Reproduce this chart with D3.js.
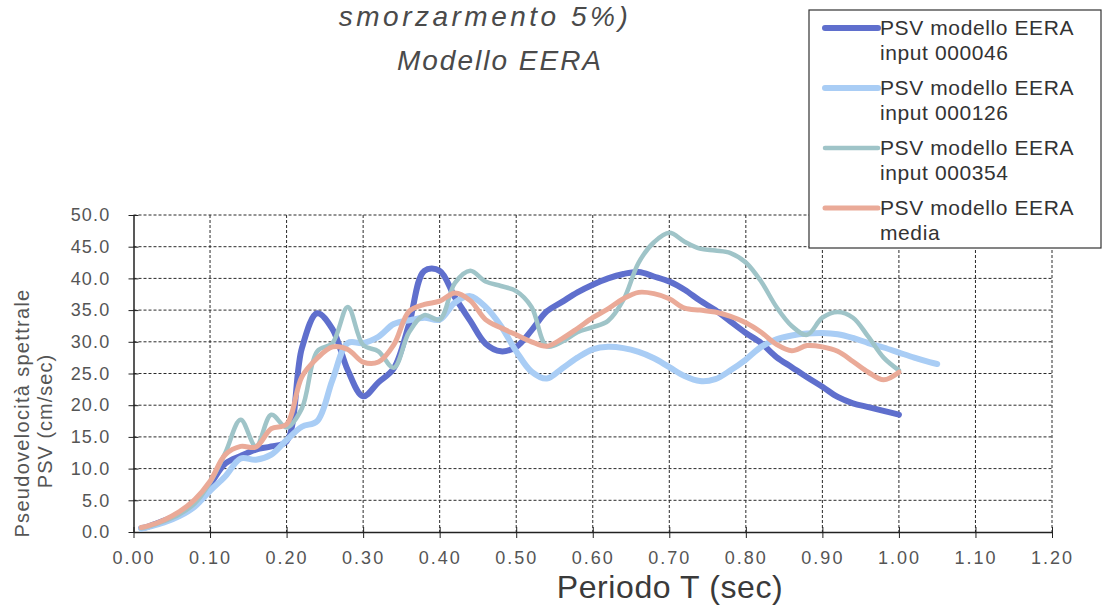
<!DOCTYPE html>
<html>
<head>
<meta charset="utf-8">
<script src="https://cdn.jsdelivr.net/npm/d3@7"></script>
<style>
  body { margin: 0; background: #ffffff; }
  svg { display: block; font-family: "Liberation Sans", Arial, sans-serif; }
</style>
</head>
<body>
<svg id="chart" width="1104" height="605"></svg>
<script>
// Periodi T (sec)
const periods = [0.01, 0.02, 0.04, 0.06, 0.08, 0.10, 0.12, 0.14, 0.16, 0.18, 0.20,
  0.22, 0.24, 0.26, 0.28, 0.30, 0.32, 0.34, 0.36, 0.38, 0.40,
  0.42, 0.44, 0.46, 0.48, 0.50, 0.52, 0.54, 0.56, 0.58, 0.60,
  0.62, 0.64, 0.66, 0.68, 0.70, 0.72, 0.74, 0.76, 0.78, 0.80,
  0.82, 0.84, 0.86, 0.88, 0.90, 0.92, 0.94, 0.96, 0.98, 1.00,
  1.02, 1.04, 1.05];

// PSV (cm/sec) per input
const psv000046 = [0.6, 0.9, 1.8, 2.9, 4.6, 7.5, 10.8, 12.0, 13.0, 13.5, 14.3,
  29.0, 34.5, 32.0, 25.5, 21.4, 23.6, 25.8, 32.8, 41.2, 41.2,
  37.0, 33.3, 29.7, 28.5, 29.2, 31.8, 34.8, 36.3, 37.8, 39.0,
  40.0, 40.7, 41.0, 40.3, 39.5, 38.2, 36.5, 35.0, 33.2, 31.4,
  29.8, 27.6, 26.0, 24.4, 22.9, 21.3, 20.3, 19.7, 19.1, 18.5,
  null, null, null];

const psv000126 = [0.5, 0.8, 1.5, 2.5, 4.0, 6.5, 8.8, 11.6, 11.4, 12.2, 14.5,
  16.6, 17.5, 24.0, 29.8, 29.8, 30.8, 32.8, 33.4, 33.8, 33.5,
  36.2, 37.2, 35.5, 32.5, 28.5, 25.3, 24.2, 25.8, 27.5, 28.8,
  29.2, 29.0, 28.4, 27.4, 26.0, 24.6, 23.8, 24.1, 25.5, 27.2,
  29.2, 30.4, 31.0, 31.3, 31.4, 31.2, 30.6, 29.8, 29.1, 28.3,
  27.5, 26.8, 26.5];

const psv000354 = [0.6, 0.9, 1.7, 2.8, 4.5, 7.8, 12.5, 17.7, 13.5, 18.5, 16.5,
  19.5, 28.5, 29.8, 35.5, 29.5, 28.5, 25.9, 31.5, 34.2, 33.5,
  39.3, 41.2, 39.5, 38.8, 38.0, 35.5, 29.3, 30.0, 31.5, 32.3,
  33.3, 36.6, 42.5, 45.7, 47.2, 45.8, 44.7, 44.4, 44.0, 42.5,
  39.5, 35.5, 32.5, 31.1, 33.8, 34.7, 33.8, 30.8, 27.5, 25.5,
  null, null, null];

const psvMedia = [0.7, 1.0, 1.9, 3.2, 5.1, 8.0, 12.2, 13.5, 13.4, 16.3, 17.0,
  24.5, 27.4, 29.2, 28.8, 26.8, 26.8, 29.5, 34.8, 35.9, 36.4,
  37.7, 36.5, 33.5, 32.2, 31.1, 30.0, 29.3, 30.5, 32.1, 33.8,
  35.2, 36.8, 37.8, 37.6, 36.8, 35.3, 35.0, 34.7, 34.0, 33.0,
  31.5, 29.6, 28.6, 29.4, 29.2, 28.5, 26.9, 25.2, 24.0, 25.2,
  null, null, null];

const seriesNames = ["PSV modello EERA|input 000046", "PSV modello EERA|input 000126",
  "PSV modello EERA|input 000354", "PSV modello EERA|media"];
const seriesColors = ["#5f6fcd", "#a9cdf5", "#9fc4c8", "#eaaa98"];
const seriesWidths = [6, 6, 4.5, 5];

const xTicks = [0, 0.1, 0.2, 0.3, 0.4, 0.5, 0.6, 0.7, 0.8, 0.9, 1.0, 1.1, 1.2];
const yTicks = [0, 5, 10, 15, 20, 25, 30, 35, 40, 45, 50];

const titleLines = ["smorzarmento 5%)", "Modello EERA"];
const xTitle = "Periodo T (sec)";
const yTitleLines = ["Pseudovelocità spettrale", "PSV (cm/sec)"];

const svg = d3.select("#chart");
const x = d3.scaleLinear().domain([0, 1.2]).range([133.5, 1052]);
const y = d3.scaleLinear().domain([0, 50]).range([532, 215]);

// titolo
const title = svg.append("g").attr("fill", "#4a4a4a").attr("font-style", "italic")
  .attr("font-size", 28).attr("text-anchor", "middle");
title.append("text").attr("x", 485).attr("y", 26).attr("letter-spacing", 3.5).text(titleLines[0]);
title.append("text").attr("x", 500).attr("y", 70).attr("letter-spacing", 2).text(titleLines[1]);

// griglia tratteggiata
const grid = svg.append("g").attr("stroke", "#2a2a2a").attr("stroke-width", 1)
  .attr("stroke-dasharray", "3,2");
grid.selectAll("line.h").data(yTicks.slice(1)).join("line").attr("class", "h")
  .attr("x1", x(0)).attr("x2", x(1.2)).attr("y1", d => y(d)).attr("y2", d => y(d));
grid.selectAll("line.v").data(xTicks.slice(1)).join("line").attr("class", "v")
  .attr("x1", d => x(d)).attr("x2", d => x(d)).attr("y1", y(50)).attr("y2", y(0));

// assi
const yAxis = svg.append("g").attr("transform", `translate(${x(0)},0)`)
  .call(d3.axisLeft(y).tickValues(yTicks).tickFormat(d3.format(".1f")).tickSizeOuter(0));
yAxis.select(".domain").attr("stroke", "#222").attr("stroke-width", 1.5);
yAxis.selectAll(".tick line").attr("x1", -5).attr("x2", 5).attr("stroke", "#222");
yAxis.selectAll(".tick text").attr("x", -23).attr("fill", "#555")
  .attr("font-size", 18).attr("letter-spacing", 1.2)
  .attr("font-family", "'Liberation Sans', Arial, sans-serif");

const xAxis = svg.append("g").attr("transform", `translate(0,${y(0)})`)
  .call(d3.axisBottom(x).tickValues(xTicks).tickFormat(d3.format(".2f")).tickSizeOuter(0));
xAxis.select(".domain").attr("stroke", "#222").attr("stroke-width", 1.5);
xAxis.selectAll(".tick line").attr("y1", -5).attr("y2", 6).attr("stroke", "#222");
xAxis.selectAll(".tick text").attr("y", 32).attr("dy", 0).attr("fill", "#555")
  .attr("font-size", 18).attr("letter-spacing", 2)
  .attr("font-family", "'Liberation Sans', Arial, sans-serif");

// titoli degli assi
svg.append("text").attr("x", 670).attr("y", 598).attr("text-anchor", "middle")
  .attr("font-size", 32).attr("letter-spacing", 0.6).attr("fill", "#3a3a3a").text(xTitle);
const yt = svg.append("g").attr("transform", "translate(0,413) rotate(-90)")
  .attr("text-anchor", "middle").attr("fill", "#555").attr("font-size", 20);
yt.append("text").attr("x", 0).attr("y", 29).attr("letter-spacing", 1.3).text(yTitleLines[0]);
yt.append("text").attr("x", -8).attr("y", 52).attr("letter-spacing", 1).text(yTitleLines[1]);

// serie
const allSeries = [psv000046, psv000126, psv000354, psvMedia];
const line = d3.line()
  .defined(d => d[1] !== null)
  .x(d => x(d[0])).y(d => y(d[1]))
  .curve(d3.curveCatmullRom.alpha(0.5));

svg.append("g").selectAll("path").data(allSeries).join("path")
  .attr("d", vals => line(periods.map((p, i) => [p, vals[i]])))
  .attr("fill", "none")
  .attr("stroke", (d, i) => seriesColors[i])
  .attr("stroke-width", (d, i) => seriesWidths[i])
  .attr("stroke-linejoin", "round").attr("stroke-linecap", "round");

// legenda
const legend = svg.append("g");
legend.append("rect").attr("x", 809).attr("y", 10).attr("width", 292).attr("height", 238)
  .attr("fill", "#fff").attr("stroke", "#333").attr("stroke-width", 1.2);
const items = legend.selectAll("g.item").data(seriesNames).join("g").attr("class", "item")
  .attr("transform", (d, i) => `translate(0,${i * 60})`);
items.append("line").attr("x1", 825).attr("x2", 878).attr("y1", 28).attr("y2", 28)
  .attr("stroke", (d, i) => seriesColors[i]).attr("stroke-width", (d, i) => seriesWidths[i])
  .attr("stroke-linecap", "round");
items.append("text").attr("x", 880).attr("y", 35).attr("font-size", 21).attr("fill", "#333")
  .attr("letter-spacing", 0.6).text(d => d.split("|")[0]);
items.append("text").attr("x", 880).attr("y", 60).attr("font-size", 21).attr("fill", "#333")
  .attr("letter-spacing", 0.6).text(d => d.split("|")[1]);
</script>
</body>
</html>
